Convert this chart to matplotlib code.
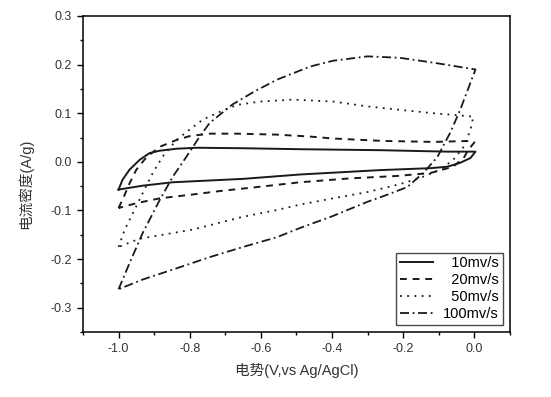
import matplotlib.pyplot as plt
from matplotlib.ticker import MultipleLocator

plt.rcParams['font.family'] = ['Liberation Sans', 'Noto Sans CJK SC', 'DejaVu Sans']

# each loop: anodic branch from -1.0 up to 0.0, then cathodic branch back to -1.0
x_10 = [-1.0, -0.989, -0.969, -0.941, -0.913, -0.884, -0.837, -0.78, -0.65, -0.49, -0.265,
        -0.076, 0.003,
        -0.011, -0.04, -0.076, -0.124, -0.265, -0.49, -0.65, -0.848, -0.932, -1.0]
y_10 = [-0.057, -0.037, -0.016, 0.004, 0.018, 0.023, 0.027, 0.029, 0.028, 0.026, 0.024,
        0.021, 0.021,
        0.008, -0.002, -0.010, -0.013, -0.017, -0.026, -0.035, -0.042, -0.049, -0.057]

x_20 = [-1.0, -0.983, -0.969, -0.95, -0.921, -0.884, -0.837, -0.80, -0.744, -0.668, -0.555,
        -0.462, -0.397, -0.256, -0.115, -0.011, 0.0,
        -0.017, -0.03, -0.06, -0.124, -0.217, -0.35, -0.49, -0.60, -0.715, -0.79, -0.884,
        -0.95, -1.0]
y_20 = [-0.095, -0.068, -0.044, -0.016, 0.010, 0.031, 0.045, 0.053, 0.058, 0.058, 0.056,
        0.052, 0.048, 0.043, 0.041, 0.043, 0.040,
        0.025, 0.008, -0.010, -0.023, -0.029, -0.034, -0.042, -0.051, -0.060, -0.067, -0.075,
        -0.085, -0.095]

x_50 = [-1.0, -0.983, -0.96, -0.932, -0.904, -0.876, -0.837, -0.808, -0.763, -0.715, -0.668,
        -0.603, -0.51, -0.397, -0.30, -0.21, -0.115, -0.003,
        -0.011, -0.03, -0.06, -0.096, -0.152, -0.21, -0.30, -0.397, -0.49, -0.555, -0.65,
        -0.715, -0.79, -0.884, -0.941, -1.0]
y_50 = [-0.175, -0.140, -0.106, -0.064, -0.023, 0.011, 0.045, 0.062, 0.087, 0.103, 0.117,
        0.124, 0.128, 0.124, 0.114, 0.107, 0.100, 0.093,
        0.066, 0.031, 0.004, -0.016, -0.033, -0.046, -0.062, -0.075, -0.088, -0.099, -0.113,
        -0.125, -0.139, -0.151, -0.158, -0.175]

x_100 = [-1.0, -0.969, -0.932, -0.884, -0.848, -0.808, -0.772, -0.744, -0.68, -0.62, -0.555,
         -0.462, -0.397, -0.30, -0.21, -0.115, 0.003,
         -0.011, -0.04, -0.068, -0.104, -0.144, -0.189, -0.25, -0.30, -0.35, -0.40, -0.49,
         -0.555, -0.65, -0.744, -0.837, -0.932, -1.0]
y_100 = [-0.262, -0.208, -0.146, -0.078, -0.031, 0.012, 0.052, 0.080, 0.118, 0.144, 0.169,
         0.196, 0.208, 0.217, 0.214, 0.204, 0.190,
         0.163, 0.107, 0.060, 0.010, -0.023, -0.052, -0.069, -0.082, -0.097, -0.112, -0.136,
         -0.155, -0.175, -0.196, -0.219, -0.242, -0.262]

labels = ['  10mv/s', '  20mv/s', '  50mv/s', '100mv/s']

fig = plt.figure(figsize=(5.51, 3.97), dpi=100)
ax = fig.add_axes([0.1506, 0.1637, 0.775, 0.796])

ink = '#1a1a1a'
ax.plot(x_10, y_10, color=ink, lw=1.4, ls='-', label=labels[0])
ax.plot(x_20, y_20, color=ink, lw=1.4, ls=(0, (3.5, 3)), label=labels[1])
ax.plot(x_50, y_50, color=ink, lw=1.3, ls=(0, (1, 3)), label=labels[2])
ax.plot(x_100, y_100, color=ink, lw=1.3, ls=(0, (5, 2, 1, 2)), label=labels[3])

ax.set_xlim(-1.1, 0.1)
ax.set_ylim(-0.35, 0.3)
ax.xaxis.set_minor_locator(MultipleLocator(0.1))
ax.yaxis.set_minor_locator(MultipleLocator(0.05))
ax.set_xticks([-1.0, -0.8, -0.6, -0.4, -0.2, 0.0])
ax.set_xticklabels(['-1.0', '-0.8', '-0.6', '-0.4', '-0.2', '0.0'])
ax.set_yticks([-0.3, -0.2, -0.1, 0.0, 0.1, 0.2, 0.3])
ax.set_yticklabels(['-0.3', '-0.2', '-0.1', '0.0', '0.1', '0.2', '0.3'])
ax.tick_params(which='major', direction='out', length=4, width=1, labelsize=9,
               labelcolor='#333333', pad=4)
ax.tick_params(which='minor', direction='out', length=2.5, width=1)
for s in ax.spines.values():
    s.set_linewidth(1.1)

ax.set_xlabel('电势(V,vs Ag/AgCl)', fontsize=10.5, color='#333333', labelpad=6)
ax.set_ylabel('电流密度(A/g)', fontsize=10.5, color='#333333')
ax.yaxis.set_label_coords(-0.117, 0.47)

leg = ax.legend(loc='lower right', fontsize=10.5, frameon=True, fancybox=False,
                handlelength=2.3, handletextpad=0.7, labelspacing=0.2,
                borderpad=0.25, borderaxespad=0.5)
leg.get_frame().set_edgecolor(ink)
leg.get_frame().set_linewidth(1.0)

fig.savefig('out.png', dpi=100)
